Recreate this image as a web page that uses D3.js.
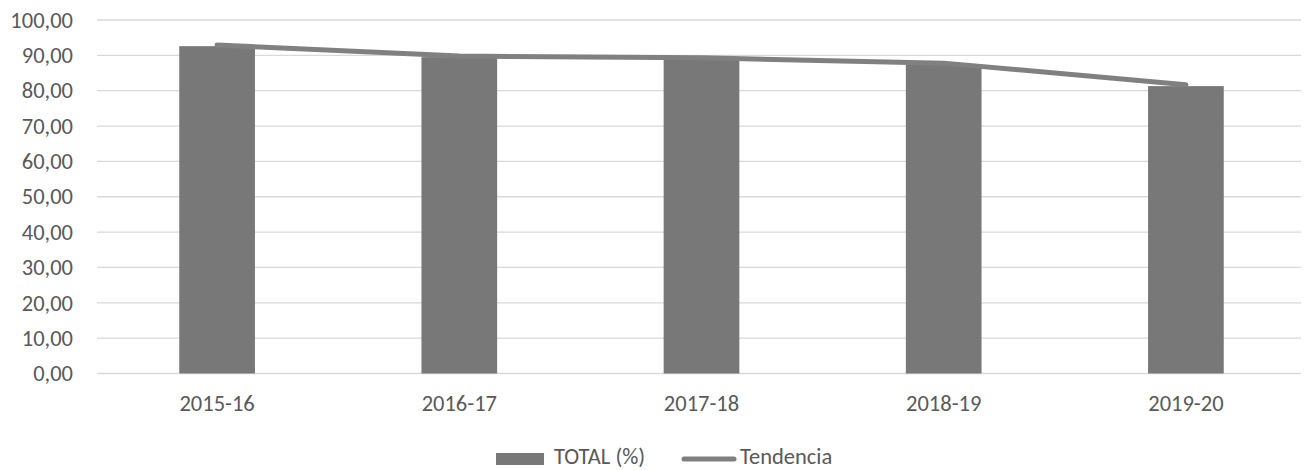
<!DOCTYPE html>
<html>
<head>
<meta charset="utf-8">
<script src="https://cdn.jsdelivr.net/npm/d3@7"></script>
<style>
  body { margin: 0; background: #fff; }
  svg { display: block; font-family: Carlito, Lato, "Open Sans", sans-serif; }
</style>
</head>
<body>
<svg id="chart"></svg>
<script>
const categories = ["2015-16", "2016-17", "2017-18", "2018-19", "2019-20"];
const totalValues = [92.6, 89.5, 89.0, 87.4, 81.3];
const trendValues = [92.9, 89.8, 89.3, 87.8, 81.7];
const yTicks = [0, 10, 20, 30, 40, 50, 60, 70, 80, 90, 100];

const width = 1309;
const height = 470;
const margin = { top: 20, right: 2, bottom: 96.5, left: 96 };
const FONT = "Carlito, Lato, 'Open Sans', sans-serif";
const FONT_SIZE = "22.5px";

const svg = d3.select("#chart")
    .attr("width", width)
    .attr("height", height);

const x = d3.scaleBand()
    .domain(categories)
    .range([margin.left, width - margin.right])
    .paddingInner(0.6875)
    .paddingOuter(0.34375);

const y = d3.scaleLinear()
    .domain([0, 100])
    .range([height - margin.bottom, margin.top]);

const fmt = v => v.toFixed(2).replace(".", ",");

// gridlines
svg.append("g")
    .selectAll("line")
    .data(yTicks)
    .enter()
    .append("line")
    .attr("x1", margin.left + 1)
    .attr("x2", width - 8)
    .attr("y1", d => y(d))
    .attr("y2", d => y(d))
    .attr("stroke", "#d9d9d9")
    .attr("stroke-width", 1.3);

// y axis labels
const yAxis = d3.axisLeft(y).tickValues(yTicks).tickFormat(fmt).tickSize(0).tickPadding(0);
svg.append("g")
    .attr("transform", `translate(73,0)`)
    .call(yAxis)
    .call(g => g.select(".domain").remove())
    .selectAll("text")
    .attr("fill", "#595959")
    .attr("font-size", FONT_SIZE)
    .attr("font-family", FONT);

// bars
svg.append("g")
    .selectAll("rect")
    .data(categories)
    .enter()
    .append("rect")
    .attr("x", d => x(d))
    .attr("width", x.bandwidth())
    .attr("y", (d, i) => y(totalValues[i]))
    .attr("height", (d, i) => y(0) - y(totalValues[i]))
    .attr("fill", "#787878");

// x axis labels
const xAxis = d3.axisBottom(x).tickSize(0).tickPadding(0);
svg.append("g")
    .attr("transform", `translate(0,${y(0) + 22})`)
    .call(xAxis)
    .call(g => g.select(".domain").remove())
    .selectAll("text")
    .attr("fill", "#595959")
    .attr("font-size", FONT_SIZE)
    .attr("font-family", FONT);

// trend line
const line = d3.line()
    .x((d, i) => x(categories[i]) + x.bandwidth() / 2)
    .y(d => y(d));

svg.append("path")
    .datum(trendValues)
    .attr("d", line)
    .attr("fill", "none")
    .attr("stroke", "#808080")
    .attr("stroke-width", 5)
    .attr("stroke-linecap", "round")
    .attr("stroke-linejoin", "round");

// legend
const legend = svg.append("g").attr("transform", "translate(0,459)");
legend.append("rect")
    .attr("x", 496).attr("y", -6)
    .attr("width", 48).attr("height", 12)
    .attr("fill", "#787878");
legend.append("text")
    .attr("x", 554).attr("y", -3).attr("dy", "0.35em")
    .attr("font-size", FONT_SIZE).attr("fill", "#595959")
    .text("TOTAL (%)");
legend.append("line")
    .attr("x1", 684).attr("x2", 734)
    .attr("y1", 0).attr("y2", 0)
    .attr("stroke", "#808080").attr("stroke-width", 5)
    .attr("stroke-linecap", "round");
legend.append("text")
    .attr("x", 740).attr("y", -3).attr("dy", "0.35em")
    .attr("font-size", FONT_SIZE).attr("fill", "#595959")
    .text("Tendencia");
</script>
</body>
</html>
